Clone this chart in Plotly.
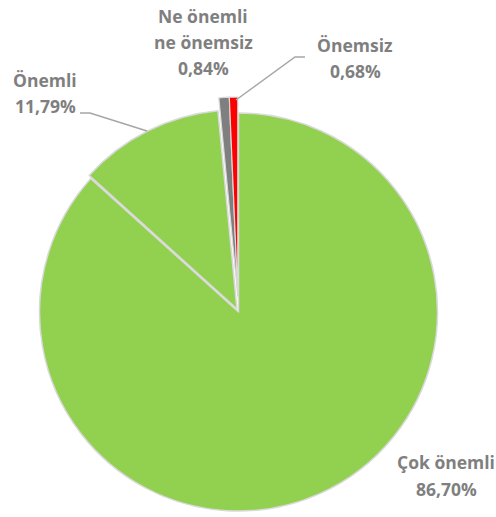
import plotly.graph_objects as go

# ---- data ----
categories = ["Çok önemli", "Önemli", "Ne önemli<br>ne önemsiz", "Önemsiz"]
values = [86.70, 11.79, 0.84, 0.68]
value_labels = ["86,70%", "11,79%", "0,84%", "0,68%"]

# ---- styling ----
W, H = 496, 517
GREEN = "#92D050"
GRAY = "#7F7F7F"
RED = "#FF0000"
BORDER = "#D9D9D9"
TEXT = "#7F7F7F"
CLEAR = "rgba(0,0,0,0)"
FONT = "Open Sans"


def dom(cx, cy, half):
    return dict(x=[(cx - half) / W, (cx + half) / W],
                y=[1 - (cy + half) / H, 1 - (cy - half) / H])


R = 199
ONEMLI_PULL = 0.018

fig = go.Figure()
# main pie (two large slices; small ones left as a gap)
fig.add_trace(go.Pie(
    values=values, labels=categories, sort=False, direction="clockwise", rotation=0,
    marker=dict(colors=[GREEN, GREEN, CLEAR, CLEAR],
                line=dict(color=BORDER, width=[1.5, 1.5, 0, 0])),
    pull=[0, ONEMLI_PULL, 0, 0], textinfo="none", hoverinfo="skip",
    domain=dom(238.5, 312, R * (1 + ONEMLI_PULL)),
))
# exploded small slices
fig.add_trace(go.Pie(
    values=values, labels=categories, sort=False, direction="clockwise", rotation=0,
    marker=dict(colors=[CLEAR, CLEAR, GRAY, RED],
                line=dict(color=BORDER, width=[0, 0, 1.2, 1.2])),
    textinfo="none", hoverinfo="skip",
    domain=dom(237.8, 296, R),
))

# labels (one annotation per text line)
label_pos = {
    0: (446, [462, 489]),
    1: (45, [80, 106]),
    2: (203, [16, 42, 68]),
    3: (355, [45, 71]),
}
annotations = []
for i, (cx, ys) in label_pos.items():
    lines = categories[i].split("<br>") + [value_labels[i]]
    for line, y in zip(lines, ys):
        annotations.append(dict(
            x=cx / W, y=1 - y / H, xref="paper", yref="paper",
            text=line, showarrow=False, xanchor="center", yanchor="middle",
            font=dict(family=FONT, size=17.5, color=TEXT, weight="bold"),
        ))


def path(pts):
    return "M " + " L ".join(f"{x / W},{1 - y / H}" for x, y in pts)


shapes = [
    dict(type="path", xref="paper", yref="paper",
         path=path([(236, 100), (295, 57), (305, 57)]),
         line=dict(color="#A6A6A6", width=1.5)),
    dict(type="path", xref="paper", yref="paper",
         path=path([(80, 113), (90, 113), (147, 131)]),
         line=dict(color="#A6A6A6", width=1.5)),
]

fig.update_layout(
    width=W, height=H, margin=dict(l=0, r=0, t=0, b=0),
    paper_bgcolor="white", plot_bgcolor="white", showlegend=False,
    annotations=annotations, shapes=shapes,
)
fig.write_html("out.html", config={"displayModeBar": False},
               post_script="document.body.style.margin='0';")
